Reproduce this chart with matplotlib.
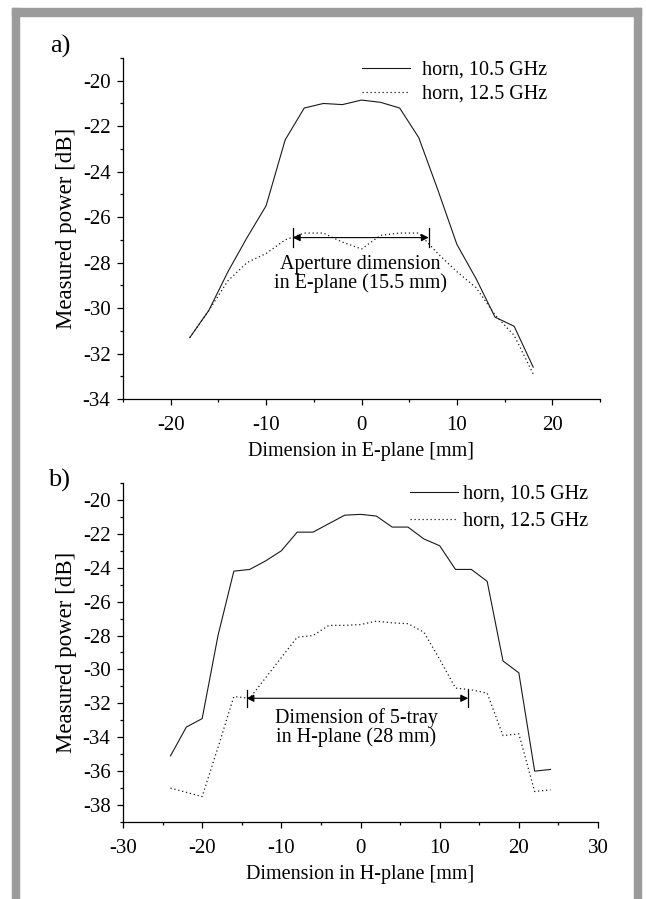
import numpy as np
import matplotlib
matplotlib.use("Agg")
import matplotlib.pyplot as plt
from matplotlib.patches import Rectangle
from matplotlib.ticker import MultipleLocator

plt.rcParams['font.family'] = ['Liberation Serif', 'DejaVu Serif']
plt.rcParams['axes.unicode_minus'] = False

# a) E-plane scan
e_pos = [-18, -16, -14, -12, -10, -8, -6, -4, -2, 0, 2, 4, 6, 8, 10, 12, 14, 16, 18]
e_105 = [-31.3, -30.1, -28.4, -26.9, -25.5, -22.6, -21.2, -21.0, -21.05, -20.85,
         -20.95, -21.2, -22.5, -24.8, -27.2, -28.7, -30.4, -30.8, -32.6]
e_125 = [-31.3, -30.1, -28.8, -28.0, -27.6, -27.0, -26.7, -26.7, -27.1, -27.4,
         -26.8, -26.7, -26.7, -27.6, -28.4, -29.1, -30.3, -31.2, -32.9]

# b) H-plane scan
h_pos = [-24, -22, -20, -18, -16, -14, -12, -10, -8, -6, -4, -2, 0,
         2, 4, 6, 8, 10, 12, 14, 16, 18, 20, 22, 24]
h_105 = [-35.1, -33.4, -32.9, -28.0, -24.2, -24.1, -23.6, -23.0, -21.9, -21.9, -21.4, -20.9, -20.85,
         -20.95, -21.6, -21.6, -22.3, -22.7, -24.1, -24.1, -24.8, -29.5, -30.2, -36.0, -35.9]
h_125 = [-37.0, -37.25, -37.5, -34.6, -31.6, -31.7, -30.5, -29.3, -28.1, -28.0, -27.4, -27.4, -27.35,
         -27.15, -27.25, -27.3, -27.8, -29.4, -31.1, -31.2, -31.4, -33.9, -33.8, -37.2, -37.1]

labels = ['horn, 10.5 GHz', 'horn, 12.5 GHz']

fs = 14.5
col = '#1a1a1a'
dot = (0, (1, 2.2))

fig = plt.figure(figsize=(6.46, 8.99), dpi=100)

# grey frame, open at the bottom
gray = '#9b9b9b'
fig.patches.append(Rectangle((12 / 646, 0), 7 / 646, 1 - 8 / 899, transform=fig.transFigure, color=gray))
fig.patches.append(Rectangle((634 / 646, 0), 7 / 646, 1 - 8 / 899, transform=fig.transFigure, color=gray))
fig.patches.append(Rectangle((12 / 646, 1 - 16 / 899), 629 / 646, 8 / 899, transform=fig.transFigure, color=gray))

ax1 = fig.add_axes([123 / 646, 1 - 399 / 899, 477 / 646, 341 / 899])
ax2 = fig.add_axes([123 / 646, 1 - 822 / 899, 475 / 646, 339 / 899])


def style(ax):
    for s in ['top', 'right']:
        ax.spines[s].set_visible(False)
    for s in ['left', 'bottom']:
        ax.spines[s].set_linewidth(0.9)
    ax.tick_params(which='major', direction='out', length=4.5, width=0.9, labelsize=15)
    ax.tick_params(which='minor', direction='out', length=2.4, width=0.9)
    ax.tick_params(axis='x', pad=7.5)
    ax.tick_params(axis='y', pad=4.5)
    ax.xaxis.set_minor_locator(MultipleLocator(5))
    ax.yaxis.set_minor_locator(MultipleLocator(1))
    ax.xaxis.set_major_locator(MultipleLocator(10))
    ax.yaxis.set_major_locator(MultipleLocator(2))


# ---- a) ----
ax1.plot(e_pos, e_105, color=col, lw=0.8, label=labels[0])
ax1.plot(e_pos, e_125, color=col, lw=0.9, ls=dot, label=labels[1])
ax1.set_xlim(-25, 25)
ax1.set_ylim(-34, -19)
style(ax1)
ax1.set_xlabel('Dimension in E-plane [mm]', fontsize=fs, labelpad=5)
ax1.set_ylabel('Measured power [dB]', fontsize=16.5, labelpad=4)
ax1.legend(frameon=False, fontsize=fs, loc='upper left', bbox_to_anchor=(0.50, 0.992),
           handlelength=2.4, handletextpad=0.6, labelspacing=0.25, borderpad=0, borderaxespad=0)

ya = -26.9
ax1.annotate('', xy=(-7.2, ya), xytext=(7.05, ya),
             arrowprops=dict(arrowstyle='<|-|>', color='black', lw=0.8, mutation_scale=11,
                             shrinkA=0, shrinkB=0))
ax1.plot([-7.2, -7.2], [ya - 0.42, ya + 0.42], color='black', lw=0.9)
ax1.plot([7.05, 7.05], [ya - 0.42, ya + 0.42], color='black', lw=0.9)
ax1.text(-0.1, -28.5, 'Aperture dimension\nin E-plane (15.5 mm)', fontsize=fs,
         ha='center', va='center', linespacing=0.95)
fig.text(50 / 646, 1 - 46 / 899, 'a)', fontsize=19, ha='left', va='center')

# ---- b) ----
ax2.plot(h_pos, h_105, color=col, lw=0.8, label=labels[0])
ax2.plot(h_pos, h_125, color=col, lw=0.9, ls=dot, label=labels[1])
ax2.set_xlim(-30, 30)
ax2.set_ylim(-39, -19)
style(ax2)
ax2.set_xlabel('Dimension in H-plane [mm]', fontsize=fs, labelpad=5)
ax2.set_ylabel('Measured power [dB]', fontsize=16.5, labelpad=4)
ax2.legend(frameon=False, fontsize=fs, loc='upper left', bbox_to_anchor=(0.604, 0.995),
           handlelength=2.4, handletextpad=0.25, labelspacing=0.4, borderpad=0, borderaxespad=0)

yb = -31.7
ax2.annotate('', xy=(-14.4, yb), xytext=(13.6, yb),
             arrowprops=dict(arrowstyle='<|-|>', color='black', lw=0.8, mutation_scale=11,
                             shrinkA=0, shrinkB=0))
ax2.plot([-14.4, -14.4], [yb - 0.5, yb + 0.5], color='black', lw=0.9)
ax2.plot([13.6, 13.6], [yb - 0.5, yb + 0.5], color='black', lw=0.9)
ax2.text(-0.5, -33.4, 'Dimension of 5-tray\nin H-plane (28 mm)', fontsize=fs,
         ha='center', va='center', linespacing=0.95)
fig.text(48 / 646, 1 - 480 / 899, 'b)', fontsize=19, ha='left', va='center')

fig.savefig('out.png', dpi=100)
